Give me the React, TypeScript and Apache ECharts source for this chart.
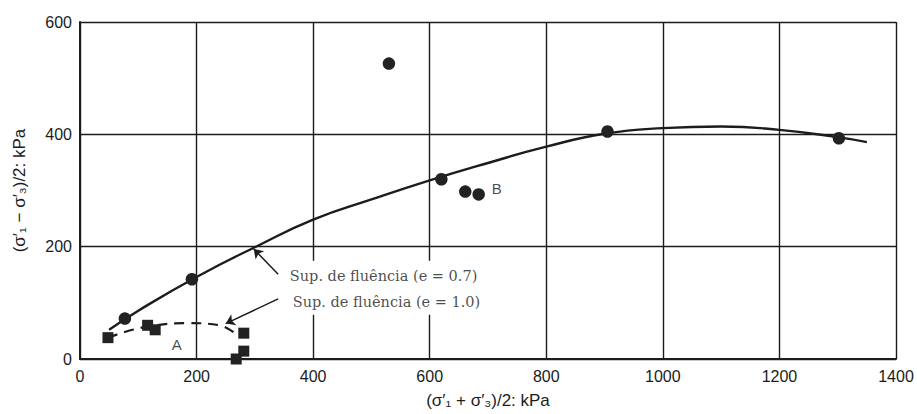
import React, { useEffect, useRef } from "react";
import * as echarts from "echarts";

// Yield surface e = 0.7 (solid curve)
const curveE07: [number, number][] = [
  [50, 52], [100, 86], [200, 146], [300, 199], [400, 248], [500, 284], [600, 318],
  [700, 349], [800, 378], [900, 401], [1000, 411], [1100, 414], [1200, 408], [1300, 395], [1350, 386],
];
// Yield surface e = 1.0 (dashed curve)
const curveE10: [number, number][] = [
  [48, 38], [90, 52], [130, 60], [180, 64], [240, 60], [268, 44],
];
// Test points (circles)
const circlePoints: [number, number][] = [
  [77, 72], [192, 142], [530, 526], [620, 320], [661, 298], [684, 293], [905, 405], [1302, 393],
];
// Test points (squares)
const squarePoints: [number, number][] = [
  [48, 38], [116, 60], [129, 52], [281, 46], [281, 14], [268, 0],
];
// Annotation texts and arrows
const noteTexts = [
  { name: "Sup. de fluência (e = 0.7)", value: [360, 147] },
  { name: "Sup. de fluência (e = 1.0)", value: [365, 102] },
];
const noteLetters = [
  { name: "A", value: [166, 26] },
  { name: "B", value: [715, 303] },
];
const arrows: [number, number][][] = [
  [[340, 151], [298, 196]],
  [[340, 107], [250, 63]],
];
const xTicks = { min: 0, max: 1400, interval: 200 };
const yTicks = { min: 0, max: 600, interval: 200 };

const INK = "#1c1c1c";

export default function App() {
  const ref = useRef<HTMLDivElement>(null);
  useEffect(() => {
    if (!ref.current) return;
    const chart = echarts.init(ref.current, null, { renderer: "svg" });
    chart.setOption({
      animation: false,
      backgroundColor: "#ffffff",
      grid: { left: 80, right: 21, top: 22, bottom: 51 },
      xAxis: {
        type: "value",
        ...xTicks,
        name: "(σ′₁ + σ′₃)/2: kPa",
        nameLocation: "middle",
        nameGap: 33,
        nameTextStyle: { fontFamily: "Liberation Sans", fontSize: 17, color: INK },
        axisLine: { show: true, lineStyle: { color: INK, width: 2 } },
        axisTick: { show: false },
        axisLabel: {
          fontFamily: "Liberation Sans", fontSize: 16, color: INK, margin: 9,
          formatter: (v: number) => String(v),
        },
        splitLine: { show: true, lineStyle: { color: INK, width: 1.4 } },
      },
      yAxis: {
        type: "value",
        ...yTicks,
        name: "(σ′₁ − σ′₃)/2: kPa",
        nameLocation: "middle",
        nameRotate: 90,
        nameGap: 52,
        nameTextStyle: { fontFamily: "Liberation Sans", fontSize: 17, color: INK },
        axisLine: { show: true, lineStyle: { color: INK, width: 2 } },
        axisTick: { show: false },
        axisLabel: {
          fontFamily: "Liberation Sans", fontSize: 16, color: INK, margin: 8,
          formatter: (v: number) => String(v),
        },
        splitLine: { show: true, lineStyle: { color: INK, width: 1.4 } },
      },
      series: [
        {
          type: "line",
          data: curveE07,
          smooth: 0.5,
          showSymbol: false,
          symbol: "none",
          lineStyle: { color: INK, width: 2.4 },
          z: 3,
        },
        {
          type: "line",
          data: curveE10,
          smooth: 0.4,
          showSymbol: false,
          symbol: "none",
          lineStyle: { color: INK, width: 2.2, type: [10, 7] },
          z: 3,
        },
        {
          type: "scatter",
          data: circlePoints,
          symbol: "circle",
          symbolSize: 12.5,
          itemStyle: { color: "#222", opacity: 1 },
          z: 4,
        },
        {
          type: "scatter",
          data: squarePoints,
          symbol: "rect",
          symbolSize: 11,
          itemStyle: { color: "#222", opacity: 1 },
          z: 4,
        },
        {
          type: "scatter",
          data: noteTexts,
          symbolSize: 0,
          silent: true,
          z: 5,
          label: {
            show: true,
            position: "right",
            distance: 0,
            formatter: (p: any) => p.name,
            fontFamily: "DejaVu Serif",
            fontSize: 14.5,
            color: INK,
          },
          itemStyle: { color: "transparent" },
        },
        {
          type: "scatter",
          data: noteLetters,
          symbolSize: 0,
          silent: true,
          z: 5,
          label: {
            show: true,
            position: "inside",
            formatter: (p: any) => p.name,
            fontFamily: "Liberation Sans",
            fontSize: 15,
            color: INK,
          },
          itemStyle: { color: "transparent" },
        },
        {
          type: "lines",
          coordinateSystem: "cartesian2d",
          data: arrows.map((c) => ({ coords: c })),
          symbol: ["none", "arrow"],
          symbolSize: 9,
          lineStyle: { color: INK, width: 1.5, opacity: 1 },
          z: 6,
        },
      ],
    });
    // white box behind the annotation texts (hides grid lines, as in reference)
    const p1 = chart.convertToPixel({ gridIndex: 0 }, [355, 100]);
    const p0 = chart.convertToPixel({ gridIndex: 0 }, [355, 175]);
    chart.setOption({
      graphic: [
        {
          type: "rect",
          shape: { x: p0[0], y: p0[1], width: 205, height: p1[1] - p0[1] + 12 },
          style: { fill: "#ffffff" },
          z: 1,
          silent: true,
        },
      ],
    });
    return () => chart.dispose();
  }, []);
  return (
    <div
      ref={ref}
      style={{ position: "fixed", left: 0, top: 0, width: 917, height: 414 }}
    />
  );
}
